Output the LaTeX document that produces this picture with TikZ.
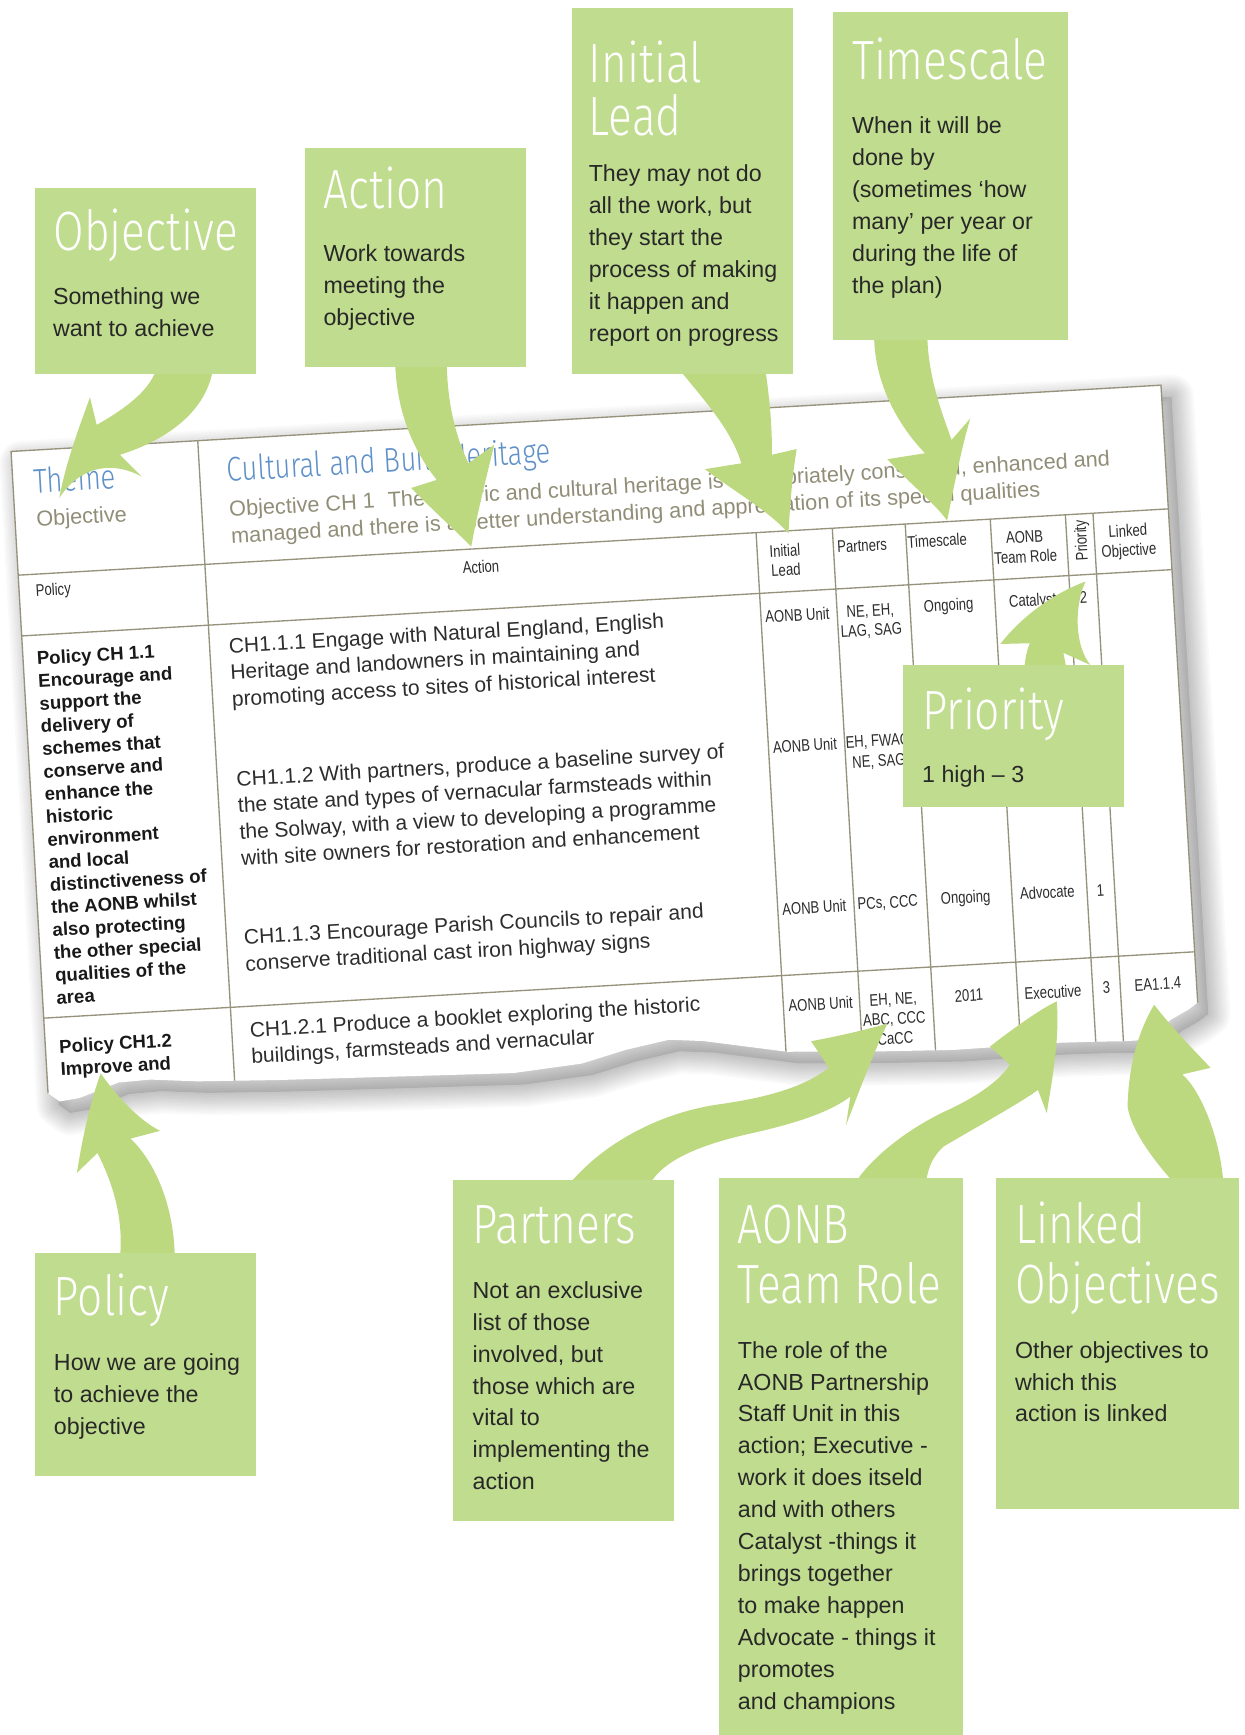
\documentclass[tikz,border=0pt]{standalone}
\usepackage{fontspec}
\setmainfont{Liberation Sans}
\IfFontExistsTF{Fira Sans Light}
  {\newfontfamily\ttlfont[FakeStretch=0.8]{Fira Sans Light}}
  {\newfontfamily\ttlfont[FakeStretch=0.72]{Liberation Sans}}
\newfontfamily\cndfont[FakeStretch=0.78]{Liberation Sans}
\definecolor{boxg}{RGB}{192,220,142}
\definecolor{arrg}{RGB}{189,217,128}
\definecolor{tline}{RGB}{150,146,124}
\definecolor{tblue}{RGB}{95,145,200}
\definecolor{tolive}{RGB}{145,142,120}
\definecolor{btext}{RGB}{40,40,40}
\definecolor{tdark}{RGB}{45,45,45}
\begin{document}
\begin{tikzpicture}[x=0.5pt,y=-0.5pt,
  gbox/.style={fill=boxg},
  arr/.style={fill=arrg},
  ttl/.style={font=\ttlfont\fontsize{25}{24}\selectfont, text=white, anchor=base west, inner sep=0pt},
  bdy/.style={font=\fontsize{10.5}{14.5}\selectfont, text=btext, anchor=base west, inner sep=0pt},
  tl/.style={draw=tline, line width=0.6pt},
  tsm/.style={font=\cndfont\fontsize{7.6}{9}\selectfont, text=tdark, anchor=base, inner sep=0pt, transform shape},
  tact/.style={font=\fontsize{9.5}{12}\selectfont, text=tdark, anchor=base west, inner sep=0pt, transform shape},
  tpol/.style={font=\bfseries\fontsize{8.4}{10.3}\selectfont, text=black!90, anchor=base west, inner sep=0pt, transform shape},
  thead/.style={font=\ttlfont\fontsize{15.5}{15}\selectfont, text=tblue, anchor=base west, inner sep=0pt, transform shape},
  tobjs/.style={font=\fontsize{9.8}{12}\selectfont, text=tolive, anchor=base west, inner sep=0pt, transform shape},
  tbl/.style={insert path={(0,0) -- (1041,0) -- (1042,559) -- (1033,565) -- (1017,573) -- (993,590) -- (973,590) -- (949,589) -- (914,588) -- (819,589) -- (740,586) -- (669,582) -- (594,568) -- (563,565) -- (523,572) -- (483,582) -- (421,587) -- (314,584) -- (207,581) -- (135,578) -- (93,574) -- (64,575) -- (28,587) -- (10,589) -- (0,581) -- cycle}}
]
\useasboundingbox (0,0) rectangle (1125,1568);
\fill[white] (0,0) rectangle (1125,1568);

% ---------------- table ----------------
\begin{scope}[shift={(10,408)}, rotate=3.3]
  \fill[black, opacity=0.10, shift={(9,11)}, tbl];
  \foreach \w in {2,4,...,20}
    \draw[black, opacity=0.022, line width=\w pt, line join=round, shift={(9,11)}, tbl];
  \fill[white, tbl];
  \begin{scope}
    \clip[tbl];
    \draw[tl] (0,112) -- (1041,112);
    \draw[tl] (0,167) -- (1041,167);
    \draw[tl] (0,513) -- (1041,513);
    \draw[tl] (169,0) -- (169,620);
    \foreach \u in {668,737,803,880,948,973}
      \draw[tl] (\u,112) -- (\u,620);
    % header
    \node[thead] (theme) at (18.2,39) {Theme};
    \node[thead] (cult) at (193.6,38.5) {Cultural and Built Heritage};
    \node[tobjs] (objl) at (19,69.1) {Objective};
    \node[tobjs] (obj1) at (193.5,70.2) {Objective CH 1\hspace{0.6em}The historic and cultural heritage is appropriately conserved, enhanced and};
    \node[tobjs] (obj2) at (193.9,94.3) {managed and there is a better understanding and appreciation of its special qualities};
    % sub header
    \node[tsm, anchor=base west] (hpol) at (14.7,132) {Policy};
    \node[tsm] (hact) at (418,134) {Action};
    \node[tsm] (hil1) at (693,135) {Initial};
    \node[tsm] (hil2) at (693,152.5) {Lead};
    \node[tsm] (hpar) at (763,134.6) {Partners};
    \node[tsm] (htim) at (831,134) {Timescale};
    \node[tsm] (hao1) at (910,135) {AONB};
    \node[tsm] (hao2) at (910,153) {Team Role};
    \node[tsm, anchor=center, rotate=90] (hpri) at (962,136) {Priority};
    \node[tsm] (hli1) at (1003.5,135) {Linked};
    \node[tsm] (hli2) at (1003.5,152.5) {Objective};
    % policy column
    \foreach \t [count=\i] in {Policy CH 1.1, Encourage and, support the, delivery of, schemes that, conserve and, enhance the, historic, environment, and local, distinctiveness of, the AONB whilst, also protecting, the other special, qualities of the, area}
      \node[tpol] (pa\i) at (12.2,{193.9+20.5*(\i-1)}) {\t};
    \node[tpol] (pb1) at (12.2,545.4) {Policy CH1.2};
    \node[tpol] (pb2) at (12.2,565.9) {Improve and};
    % action column
    \foreach \t [count=\i] in {{CH1.1.1 Engage with Natural England, English}, {Heritage and landowners in maintaining and}, {promoting access to sites of historical interest}}
      \node[tact] (aa\i) at (186,{193.5+23.9*(\i-1)}) {\t};
    \foreach \t [count=\i] in {{CH1.1.2 With partners, produce a baseline survey of}, {the state and types of vernacular farmsteads within}, {the Solway, with a view to developing a programme}, {with site owners for restoration and enhancement}}
      \node[tact] (ab\i) at (186,{314+23.9*(\i-1)}) {\t};
    \foreach \t [count=\i] in {{CH1.1.3 Encourage Parish Councils to repair and}, {conserve traditional cast iron highway signs}}
      \node[tact] (ac\i) at (184.5,{457.2+23.9*(\i-1)}) {\t};
    \foreach \t [count=\i] in {{CH1.2.1 Produce a booklet exploring the historic}, {buildings, farmsteads and vernacular}}
      \node[tact] (ad\i) at (185,{541+23.9*(\i-1)}) {\t};
    % row 1
    \node[tsm] (r1a) at (701,194) {AONB Unit};
    \node[tsm] (r1b) at (767,193.7) {NE, EH,};
    \node[tsm] (r1c) at (767,211.2) {LAG, SAG};
    \node[tsm] (r1d) at (838,192.4) {Ongoing};
    \node[tsm] (r1e) at (914,192.5) {Catalyst};
    \node[tsm] (r1f) at (960,192.8) {2};
    % row 2
    \node[tsm] (r2a) at (701,312) {AONB Unit};
    \node[tsm] (r2b) at (767,311.3) {EH, FWAG};
    \node[tsm] (r2c) at (767,329.7) {NE, SAG};
    % row 3
    \node[tsm] (r3a) at (701,458.5) {AONB Unit};
    \node[tsm] (r3b) at (767.5,457.7) {PCs, CCC};
    \node[tsm] (r3d) at (838,457.2) {Ongoing};
    \node[tsm] (r3e) at (912,457) {Advocate};
    \node[tsm] (r3f) at (960,457.6) {1};
    % row 4
    \node[tsm] (r4a) at (701.7,545.9) {AONB Unit};
    \node[tsm] (r4b) at (767.4,545.1) {EH, NE,};
    \node[tsm] (r4c) at (767.4,563) {ABC, CCC};
    \node[tsm] (r4g) at (767.4,581) {CaCC};
    \node[tsm] (r4d) at (836,546) {2011};
    \node[tsm] (r4e) at (912,547.5) {Executive};
    \node[tsm] (r4f) at (960.4,545.7) {3};
    \node[tsm] (r4h) at (1007,545.4) {EA1.1.4};
  \end{scope}
  \draw[tl] (0,581) -- (0,0) -- (1041,0) -- (1042,559);
\end{scope}

% ---------------- arrows ----------------
% Objective
\fill[arr] (142,330) .. controls (138,352) and (112,370) .. (87.4,384) -- (81.3,359)
  .. controls (74,380) and (60,415) .. (53.6,450)
  .. controls (75,418) and (105,418) .. (128,430.7) -- (108.4,411)
  .. controls (150,398) and (188,372) .. (193,330) -- cycle;
% Action
\fill[arr] (357,325) .. controls (358,370) and (372,405) .. (394.7,433.7) -- (371.6,441)
  .. controls (390,460) and (410,478) .. (425.9,494)
  .. controls (432,460) and (440,430) .. (446.6,402) -- (423.4,418.6)
  .. controls (412,395) and (404,365) .. (403.7,325) -- cycle;
% Initial Lead
\fill[arr] (611,330) .. controls (630,355) and (660,385) .. (670,418.7) -- (637,424)
  .. controls (665,445) and (695,462) .. (712.6,482)
  .. controls (714,455) and (716,430) .. (720,405.8) -- (697.6,411)
  .. controls (698,385) and (695,355) .. (691,330) -- cycle;
% Timescale
\fill[arr] (790,300) .. controls (789,345) and (812,385) .. (836,409.6) -- (802,415)
  .. controls (820,435) and (845,455) .. (856,470.5)
  .. controls (862,440) and (870,400) .. (877,378) -- (860,397.6)
  .. controls (852,375) and (838,340) .. (838,300) -- cycle;
% Priority
\fill[arr] (926,610) -- (926,601) .. controls (927,592) and (929,585) .. (930.7,581.3) -- (904,582)
  .. controls (925,555) and (955,535) .. (981,525.6)
  .. controls (970,550) and (972,585) .. (985.5,601) -- (961,590) -- (965,610) -- cycle;
% Policy
\fill[arr] (108,1140) .. controls (113,1100) and (100,1065) .. (88,1042) -- (69.5,1060)
  .. controls (75,1025) and (82,995) .. (91,970)
  .. controls (105,990) and (125,1012) .. (144.6,1022) -- (118,1029)
  .. controls (140,1050) and (158,1090) .. (158,1140) -- cycle;
% Partners
\fill[arr] (516,1075) -- (518,1066) .. controls (550,1030) and (600,1005) .. (650,998)
  .. controls (700,991) and (730,980) .. (749,965) -- (733,941)
  .. controls (760,936) and (785,930) .. (802,925)
  .. controls (790,950) and (775,990) .. (764.5,1017) -- (768.5,991)
  .. controls (750,1005) and (720,1015) .. (680,1024)
  .. controls (630,1035) and (595,1050) .. (585,1075) -- cycle;
% AONB
\fill[arr] (776,1075) -- (776,1064.5) .. controls (790,1045) and (820,1020) .. (857,1003)
  .. controls (885,990) and (905,975) .. (912.6,962) -- (894.7,945.8)
  .. controls (915,930) and (940,912) .. (955,905)
  .. controls (958,940) and (950,980) .. (946,1006) -- (938,985)
  .. controls (925,995) and (880,1020) .. (853,1036)
  .. controls (843,1045) and (838,1055) .. (836,1075) -- cycle;
% Linked
\fill[arr] (1057,1075) -- (1057,1064.5) .. controls (1040,1045) and (1022,1020) .. (1019,1000)
  .. controls (1020,960) and (1030,930) .. (1043,908)
  .. controls (1060,930) and (1080,950) .. (1094,965) -- (1068.5,971)
  .. controls (1085,985) and (1104,1030) .. (1106,1075) -- cycle;

% ---------------- boxes ----------------
\fill[gbox] (32,170) rectangle (231,338);
\node[ttl] (tobj) at (48,226.5) {Objective};
\foreach \t [count=\i] in {{Something we}, {want to achieve}}
  \node[bdy] (bobj\i) at (47.5,{275.6+28.9*(\i-1)}) {\t};

\fill[gbox] (276,134) rectangle (475,332);
\node[ttl] (tact) at (292,188) {Action};
\foreach \t [count=\i] in {{Work towards}, {meeting the}, {objective}}
  \node[bdy] (bact\i) at (292,{236.4+28.9*(\i-1)}) {\t};

\fill[gbox] (517,7) rectangle (717,338);
\node[ttl] (til1) at (531.7,74.7) {Initial};
\node[ttl] (til2) at (531.7,122.9) {Lead};
\foreach \t [count=\i] in {{They may not do}, {all the work, but}, {they start the}, {process of making}, {it happen and}, {report on progress}}
  \node[bdy] (bil\i) at (531.7,{164+28.95*(\i-1)}) {\t};

\fill[gbox] (752.7,11) rectangle (965,307);
\node[ttl] (ttim) at (769.7,72.3) {Timescale};
\foreach \t [count=\i] in {{When it will be}, {done by}, {(sometimes ‘how}, {many’ per year or}, {during the life of}, {the plan)}}
  \node[bdy] (btim\i) at (769.7,{120.5+28.9*(\i-1)}) {\t};

\fill[gbox] (816,601) rectangle (1015.5,729);
\node[ttl] (tpri) at (833,659) {Priority};
\node[bdy] (bpri) at (833,707) {1 high – 3};

\fill[gbox] (31.7,1132) rectangle (231,1334);
\node[ttl] (tpol) at (48.4,1189.3) {Policy};
\foreach \t [count=\i] in {{How we are going}, {to achieve the}, {objective}}
  \node[bdy] (bpol\i) at (48.4,{1238.6+28.95*(\i-1)}) {\t};

\fill[gbox] (409.5,1066.6) rectangle (609,1374.8);
\node[ttl] (tpar) at (426.8,1124) {Partners};
\foreach \t [count=\i] in {{Not an exclusive}, {list of those}, {involved, but}, {those which are}, {vital to}, {implementing the}, {action}}
  \node[bdy] (bpar\i) at (426.8,{1173.3+28.85*(\i-1)}) {\t};

\fill[gbox] (649.8,1064.7) rectangle (870,1568);
\node[ttl] (tao1) at (666.5,1124) {AONB};
\node[ttl] (tao2) at (666.5,1178) {Team Role};
\foreach \t [count=\i] in {{The role of the}, {AONB Partnership}, {Staff Unit in this}, {action; Executive -}, {work it does itseld}, {and with others}, {Catalyst -things it}, {brings together}, {to make happen}, {Advocate - things it}, {promotes}, {and champions}}
  \node[bdy] (bao\i) at (666.5,{1227.3+28.9*(\i-1)}) {\t};

\fill[gbox] (900,1065) rectangle (1120,1364);
\node[ttl] (tli1) at (917,1124) {Linked};
\node[ttl] (tli2) at (917,1178) {Objectives};
\foreach \t [count=\i] in {{Other objectives to}, {which this}, {action is linked}}
  \node[bdy] (bli\i) at (917,{1227.3+28.9*(\i-1)}) {\t};
\end{tikzpicture}
\end{document}
